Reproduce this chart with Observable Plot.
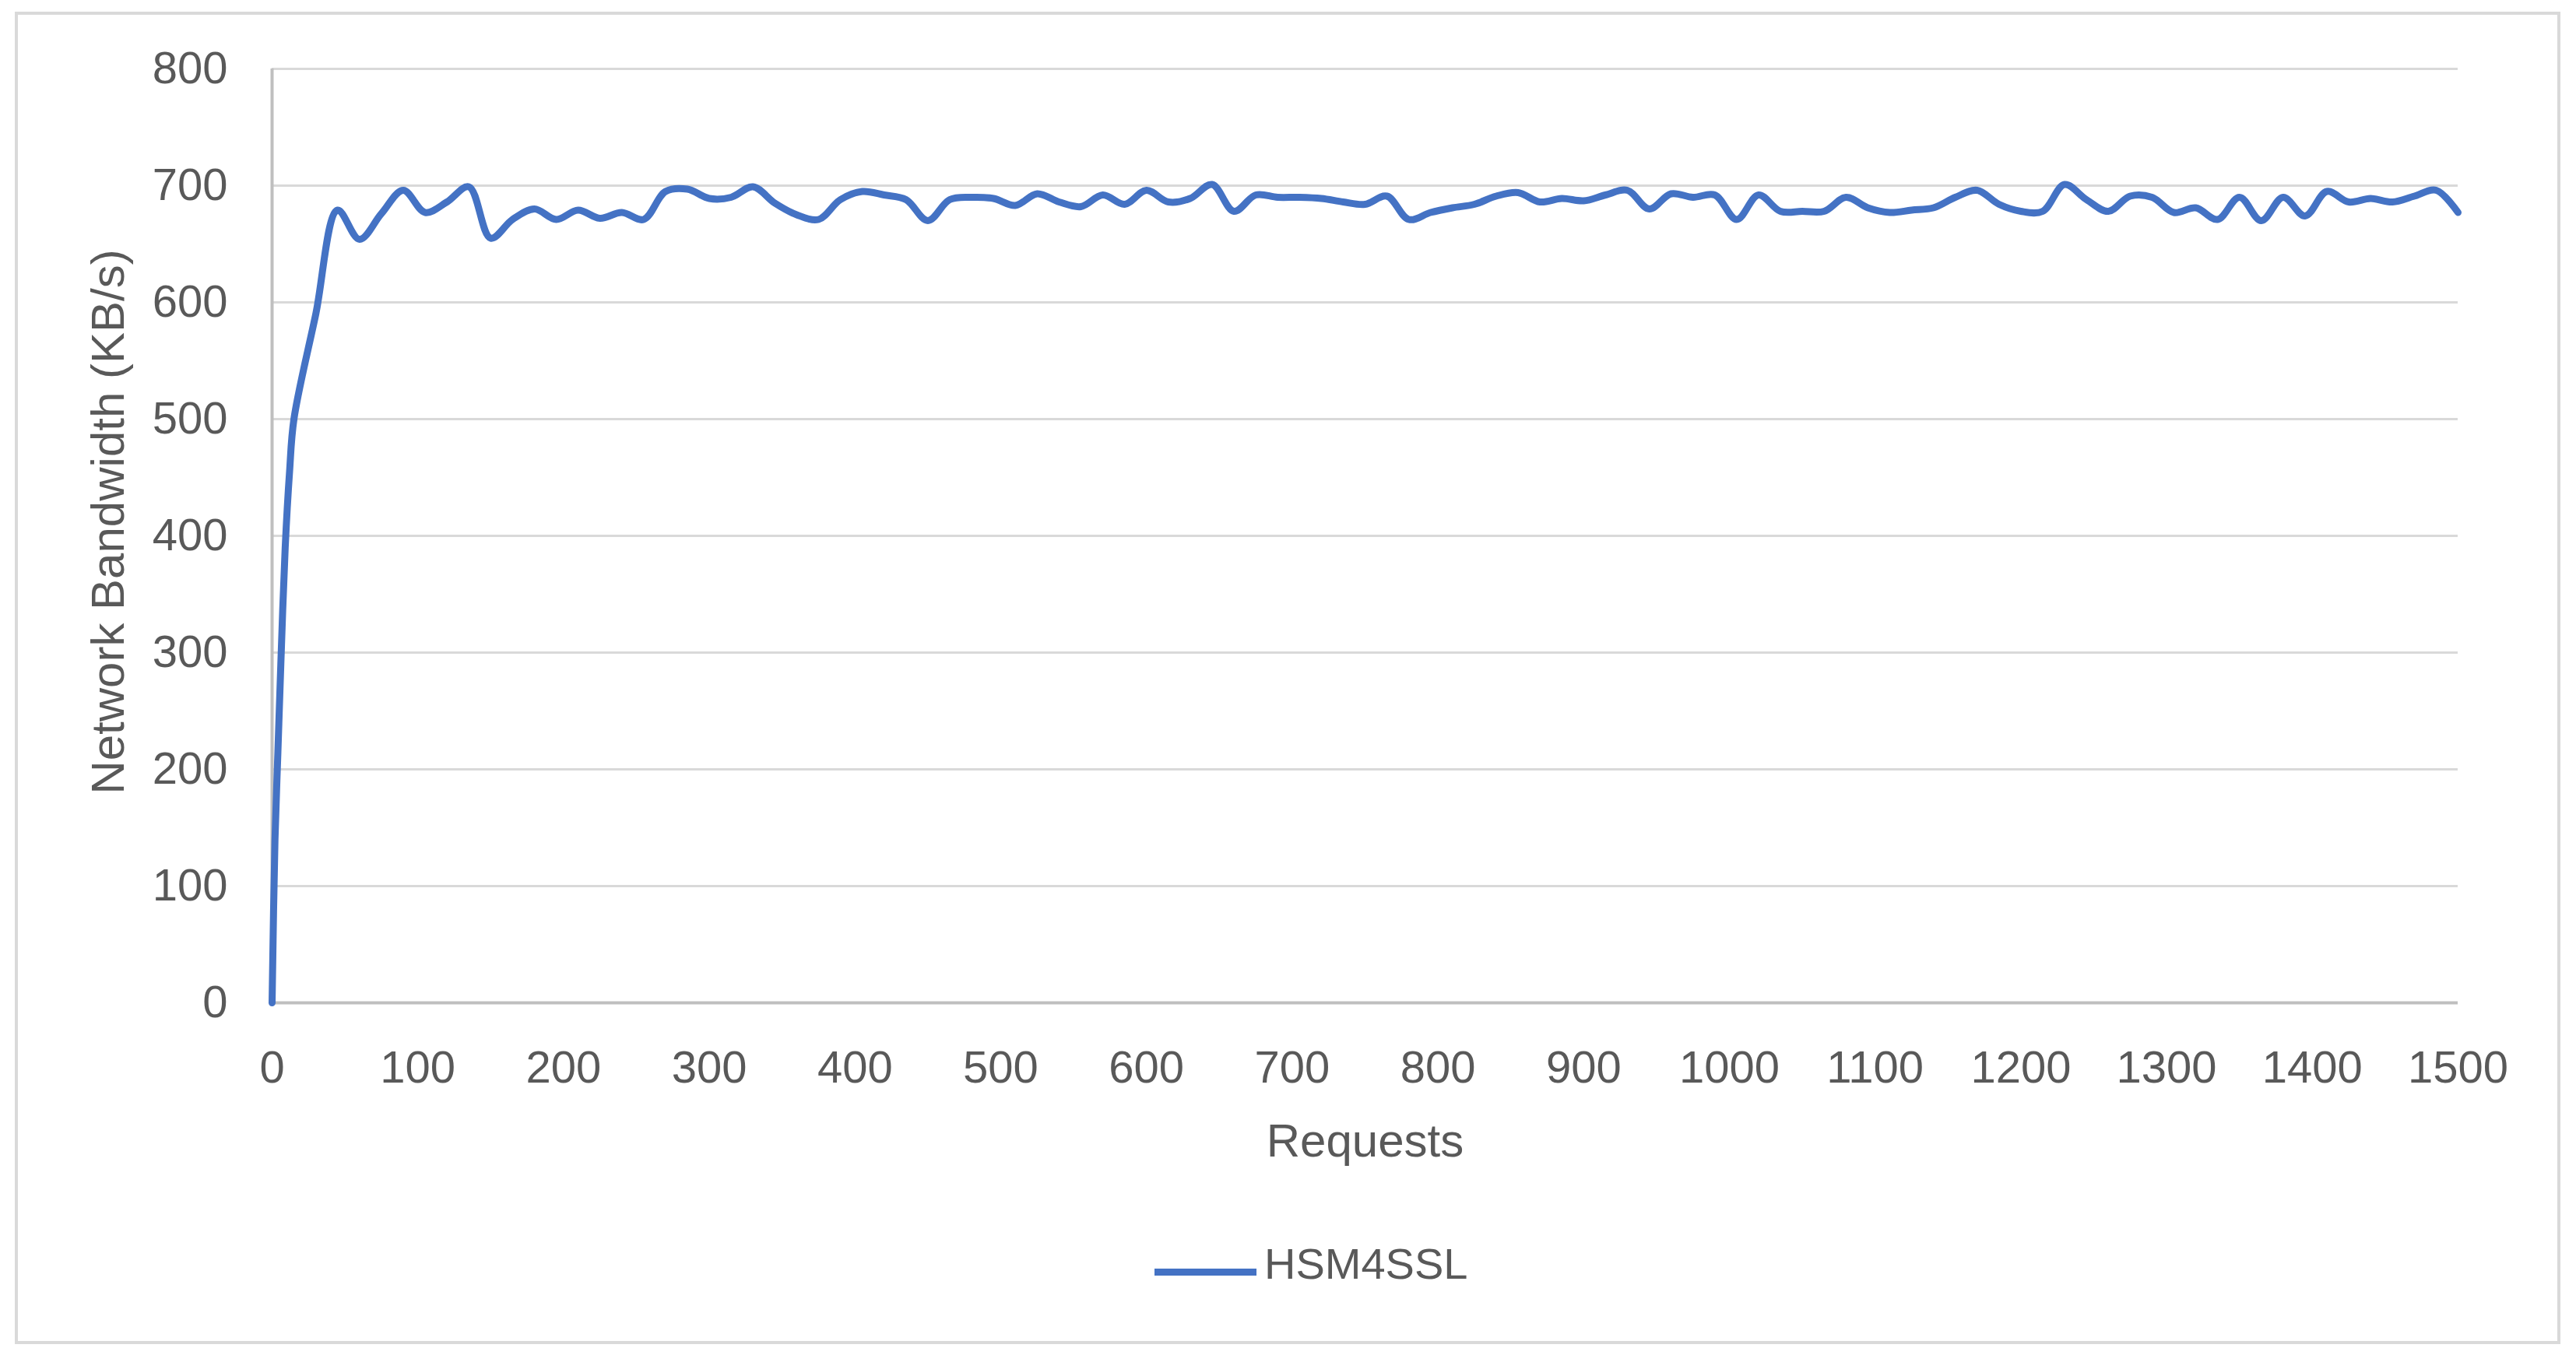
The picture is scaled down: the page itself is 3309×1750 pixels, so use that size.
<!DOCTYPE html>
<html>
<head>
<meta charset="utf-8">
<script src="https://cdn.jsdelivr.net/npm/d3@7"></script>
<script src="https://cdn.jsdelivr.net/npm/@observablehq/plot@0.6"></script>
<style>
  html, body { margin: 0; padding: 0; background: #ffffff; }
  body { width: 3309px; height: 1750px; position: relative; overflow: hidden;
         font-family: "Liberation Sans", Arial, sans-serif; }
  #frame { position: absolute; left: 19px; top: 15px; width: 3270px; height: 1712px;
           border: 4px solid #d9d9d9; box-sizing: border-box; pointer-events: none; }
  #chart { position: relative; width: 3309px; height: 1540px; }
  #legend { position: relative; width: 3309px; height: 210px; }
  #legend .swatch { position: absolute; left: 1483px; top: 90px; width: 131px; height: 9px; background: #4472C4; }
  #legend .label { position: absolute; left: 1624px; top: 56px; font-size: 56px; line-height: 56px; color: #595959; white-space: nowrap; }
</style>
</head>
<body>
<div id="frame"></div>
<div id="chart"></div>
<div id="legend"></div>
<script>
// ---- data ----
const seriesName = "HSM4SSL";
const xTitle = "Requests";
const yTitle = "Network Bandwidth (KB/s)";
const xTickValues = [0, 100, 200, 300, 400, 500, 600, 700, 800, 900, 1000, 1100, 1200, 1300, 1400, 1500];
const yTickValues = [0, 100, 200, 300, 400, 500, 600, 700, 800];

const requests = [
  0, 2, 4, 6, 9, 12, 15, 30, 45, 60, 75, 90, 105, 120, 135, 150, 165, 180, 195, 210,
  225, 240, 255, 270, 285, 300, 315, 330, 345, 360, 375, 390, 405, 420, 435, 450, 465, 480, 495, 510,
  525, 540, 555, 570, 585, 600, 615, 630, 645, 660, 675, 690, 705, 720, 735, 750, 765, 780, 795, 810,
  825, 840, 855, 870, 885, 900, 915, 930, 945, 960, 975, 990, 1005, 1020, 1035, 1050, 1065, 1080, 1095, 1110,
  1125, 1140, 1155, 1170, 1185, 1200, 1215, 1230, 1245, 1260, 1275, 1290, 1305, 1320, 1335, 1350, 1365, 1380, 1395, 1410,
  1425, 1440, 1455, 1470, 1485, 1500
];
const bandwidth = [
  0, 140, 215, 290, 390, 455, 500, 590, 679, 654, 676, 696, 677, 686, 699, 655, 671, 680, 671, 679,
  672, 677, 671, 695, 697, 689, 690, 699, 685, 675, 671, 688, 695, 692, 688, 670, 688, 690, 689, 683,
  693, 686, 682, 692, 684, 696, 686, 689, 701, 678, 692, 690, 690, 689, 686, 684, 691, 671, 677, 681,
  684, 691, 694, 686, 689, 687, 692, 696, 680, 693, 690, 692, 671, 692, 678, 678, 678, 690, 681, 677,
  679, 681, 690, 696, 684, 678, 678, 701, 688, 678, 691, 690, 677, 681, 671, 690, 670, 690, 674, 695,
  686, 689, 686, 691, 696, 677
];

const lineColor = "#4472C4";
const textColor = "#595959";

const data = requests.map((r, i) => ({requests: r, bandwidth: bandwidth[i]}));

const chart = Plot.plot({
  width: 3309,
  height: 1540,
  marginLeft: 349,
  marginRight: 152,
  marginTop: 88,
  marginBottom: 252,
  style: {
    fontFamily: "'Liberation Sans', Arial, sans-serif",
    fontSize: "58px",
    color: textColor,
    background: "transparent",
    overflow: "visible"
  },
  x: {domain: [0, 1500], ticks: xTickValues, tickSize: 0, tickPadding: 61, label: null, tickFormat: d => String(d)},
  y: {domain: [0, 800], ticks: yTickValues, tickSize: 0, tickPadding: 57, label: null, tickFormat: d => String(d)},
  marks: [
    Plot.ruleY(yTickValues.filter(v => v > 0), {stroke: "#d9d9d9", strokeWidth: 3}),
    Plot.ruleY([0], {stroke: "#bfbfbf", strokeWidth: 4}),
    Plot.ruleX([0], {stroke: "#bfbfbf", strokeWidth: 4}),
    Plot.line(data, {
      x: "requests", y: "bandwidth",
      stroke: lineColor, strokeWidth: 9,
      strokeLinecap: "round", strokeLinejoin: "round",
      curve: "catmull-rom"
    }),
    Plot.text([xTitle], {frameAnchor: "bottom", dy: 178, fontSize: 60, fill: textColor, lineAnchor: "middle", textAnchor: "middle"}),
    Plot.text([yTitle], {frameAnchor: "left", dx: -210, dy: -18, rotate: -90, fontSize: 60, fill: textColor, lineAnchor: "middle", textAnchor: "middle"})
  ]
});
document.getElementById("chart").appendChild(chart);

const legend = document.getElementById("legend");
const sw = document.createElement("div");
sw.className = "swatch";
sw.style.background = lineColor;
const lb = document.createElement("span");
lb.className = "label";
lb.textContent = seriesName;
legend.appendChild(sw);
legend.appendChild(lb);
</script>
</body>
</html>
